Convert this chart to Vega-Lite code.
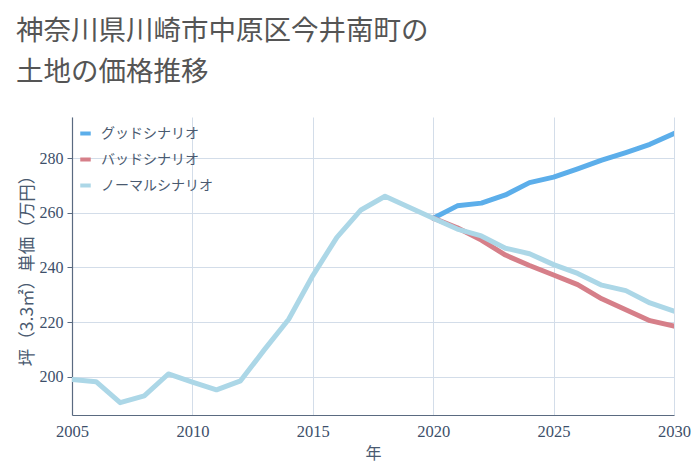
{
  "$schema": "https://vega.github.io/schema/vega-lite/v6.json",
  "width": 602,
  "height": 298,
  "autosize": {"type": "none"},
  "padding": {"left": 72, "top": 117, "right": 26, "bottom": 55},
  "background": "white",
  "title": {
    "text": ["神奈川県川崎市中原区今井南町の", "土地の価格推移"],
    "anchor": "start",
    "frame": "group",
    "dx": -56,
    "offset": 31,
    "fontSize": 27.5,
    "lineHeight": 41,
    "font": "Noto Sans CJK JP",
    "fontWeight": "normal",
    "color": "#555555"
  },
  "config": {
    "view": {"stroke": null},
    "font": "Noto Sans CJK JP"
  },
  "data": {
    "values": [
      {"year": 2020, "scenario": "グッドシナリオ", "value": 258},
      {"year": 2021, "scenario": "グッドシナリオ", "value": 262.5},
      {"year": 2022, "scenario": "グッドシナリオ", "value": 263.5},
      {"year": 2023, "scenario": "グッドシナリオ", "value": 266.5},
      {"year": 2024, "scenario": "グッドシナリオ", "value": 271},
      {"year": 2025, "scenario": "グッドシナリオ", "value": 273},
      {"year": 2026, "scenario": "グッドシナリオ", "value": 276},
      {"year": 2027, "scenario": "グッドシナリオ", "value": 279.2},
      {"year": 2028, "scenario": "グッドシナリオ", "value": 282},
      {"year": 2029, "scenario": "グッドシナリオ", "value": 285},
      {"year": 2030, "scenario": "グッドシナリオ", "value": 289},
      {"year": 2020, "scenario": "バッドシナリオ", "value": 258},
      {"year": 2021, "scenario": "バッドシナリオ", "value": 254.5},
      {"year": 2022, "scenario": "バッドシナリオ", "value": 250},
      {"year": 2023, "scenario": "バッドシナリオ", "value": 244.5},
      {"year": 2024, "scenario": "バッドシナリオ", "value": 240.7},
      {"year": 2025, "scenario": "バッドシナリオ", "value": 237.2},
      {"year": 2026, "scenario": "バッドシナリオ", "value": 233.7},
      {"year": 2027, "scenario": "バッドシナリオ", "value": 228.5},
      {"year": 2028, "scenario": "バッドシナリオ", "value": 224.5},
      {"year": 2029, "scenario": "バッドシナリオ", "value": 220.5},
      {"year": 2030, "scenario": "バッドシナリオ", "value": 218.5},
      {"year": 2005, "scenario": "ノーマルシナリオ", "value": 199},
      {"year": 2006, "scenario": "ノーマルシナリオ", "value": 198.2},
      {"year": 2007, "scenario": "ノーマルシナリオ", "value": 190.5},
      {"year": 2008, "scenario": "ノーマルシナリオ", "value": 193},
      {"year": 2009, "scenario": "ノーマルシナリオ", "value": 201},
      {"year": 2010, "scenario": "ノーマルシナリオ", "value": 198},
      {"year": 2011, "scenario": "ノーマルシナリオ", "value": 195.2},
      {"year": 2012, "scenario": "ノーマルシナリオ", "value": 198.5},
      {"year": 2013, "scenario": "ノーマルシナリオ", "value": 210},
      {"year": 2014, "scenario": "ノーマルシナリオ", "value": 221},
      {"year": 2015, "scenario": "ノーマルシナリオ", "value": 237},
      {"year": 2016, "scenario": "ノーマルシナリオ", "value": 251},
      {"year": 2017, "scenario": "ノーマルシナリオ", "value": 261},
      {"year": 2018, "scenario": "ノーマルシナリオ", "value": 266},
      {"year": 2019, "scenario": "ノーマルシナリオ", "value": 262},
      {"year": 2020, "scenario": "ノーマルシナリオ", "value": 258},
      {"year": 2021, "scenario": "ノーマルシナリオ", "value": 254},
      {"year": 2022, "scenario": "ノーマルシナリオ", "value": 251.5},
      {"year": 2023, "scenario": "ノーマルシナリオ", "value": 247},
      {"year": 2024, "scenario": "ノーマルシナリオ", "value": 245},
      {"year": 2025, "scenario": "ノーマルシナリオ", "value": 241},
      {"year": 2026, "scenario": "ノーマルシナリオ", "value": 237.8},
      {"year": 2027, "scenario": "ノーマルシナリオ", "value": 233.5},
      {"year": 2028, "scenario": "ノーマルシナリオ", "value": 231.5},
      {"year": 2029, "scenario": "ノーマルシナリオ", "value": 227},
      {"year": 2030, "scenario": "ノーマルシナリオ", "value": 224}
    ]
  },
  "mark": {"type": "line", "strokeWidth": 5, "strokeCap": "round", "strokeJoin": "round", "clip": true},
  "encoding": {
    "x": {
      "field": "year",
      "type": "quantitative",
      "scale": {"domain": [2005, 2030], "nice": false, "zero": false},
      "axis": {
        "title": "年",
        "titleFont": "Noto Sans CJK JP",
        "titleFontSize": 16,
        "titleFontWeight": "normal",
        "titleColor": "#4a5a70",
        "titlePadding": 6,
        "values": [2005, 2010, 2015, 2020, 2025, 2030],
        "format": "d",
        "labelFont": "Liberation Serif",
        "labelFontSize": 16.5,
        "labelColor": "#3d4f6a",
        "labelPadding": 8,
        "labelOverlap": false,
        "labelFlush": false,
        "ticks": false,
        "domainColor": "#5a6a80",
        "domainWidth": 1.2,
        "grid": true,
        "gridColor": "#d3dde9",
        "gridWidth": 1
      }
    },
    "y": {
      "field": "value",
      "type": "quantitative",
      "scale": {"domain": [186, 295], "nice": false, "zero": false},
      "axis": {
        "title": "坪（3.3㎡）単価（万円）",
        "titleFont": "Noto Sans CJK JP",
        "titleFontSize": 17.5,
        "titleFontWeight": "normal",
        "titleColor": "#4a5a70",
        "titlePadding": 3,
        "values": [200, 220, 240, 260, 280],
        "labelFont": "Liberation Serif",
        "labelFontSize": 16,
        "labelColor": "#3d4f6a",
        "labelPadding": 4,
        "ticks": true,
        "tickSize": 5,
        "tickColor": "#5a6a80",
        "domainColor": "#5a6a80",
        "domainWidth": 1.2,
        "grid": true,
        "gridColor": "#d3dde9",
        "gridWidth": 1
      }
    },
    "color": {
      "field": "scenario",
      "type": "nominal",
      "sort": ["グッドシナリオ", "バッドシナリオ", "ノーマルシナリオ"],
      "scale": {
        "domain": ["グッドシナリオ", "バッドシナリオ", "ノーマルシナリオ"],
        "range": ["#5caeea", "#d67f89", "#acd7e7"]
      },
      "legend": {
        "title": null,
        "orient": "none",
        "legendX": 6,
        "legendY": 9,
        "symbolType": "stroke",
        "symbolStrokeWidth": 4,
        "symbolSize": 110,
        "labelFont": "Noto Sans CJK JP",
        "labelFontSize": 14,
        "labelColor": "#4a5a70",
        "rowPadding": 9,
        "labelOffset": 8
      }
    },
    "order": {"field": "year"}
  }
}
